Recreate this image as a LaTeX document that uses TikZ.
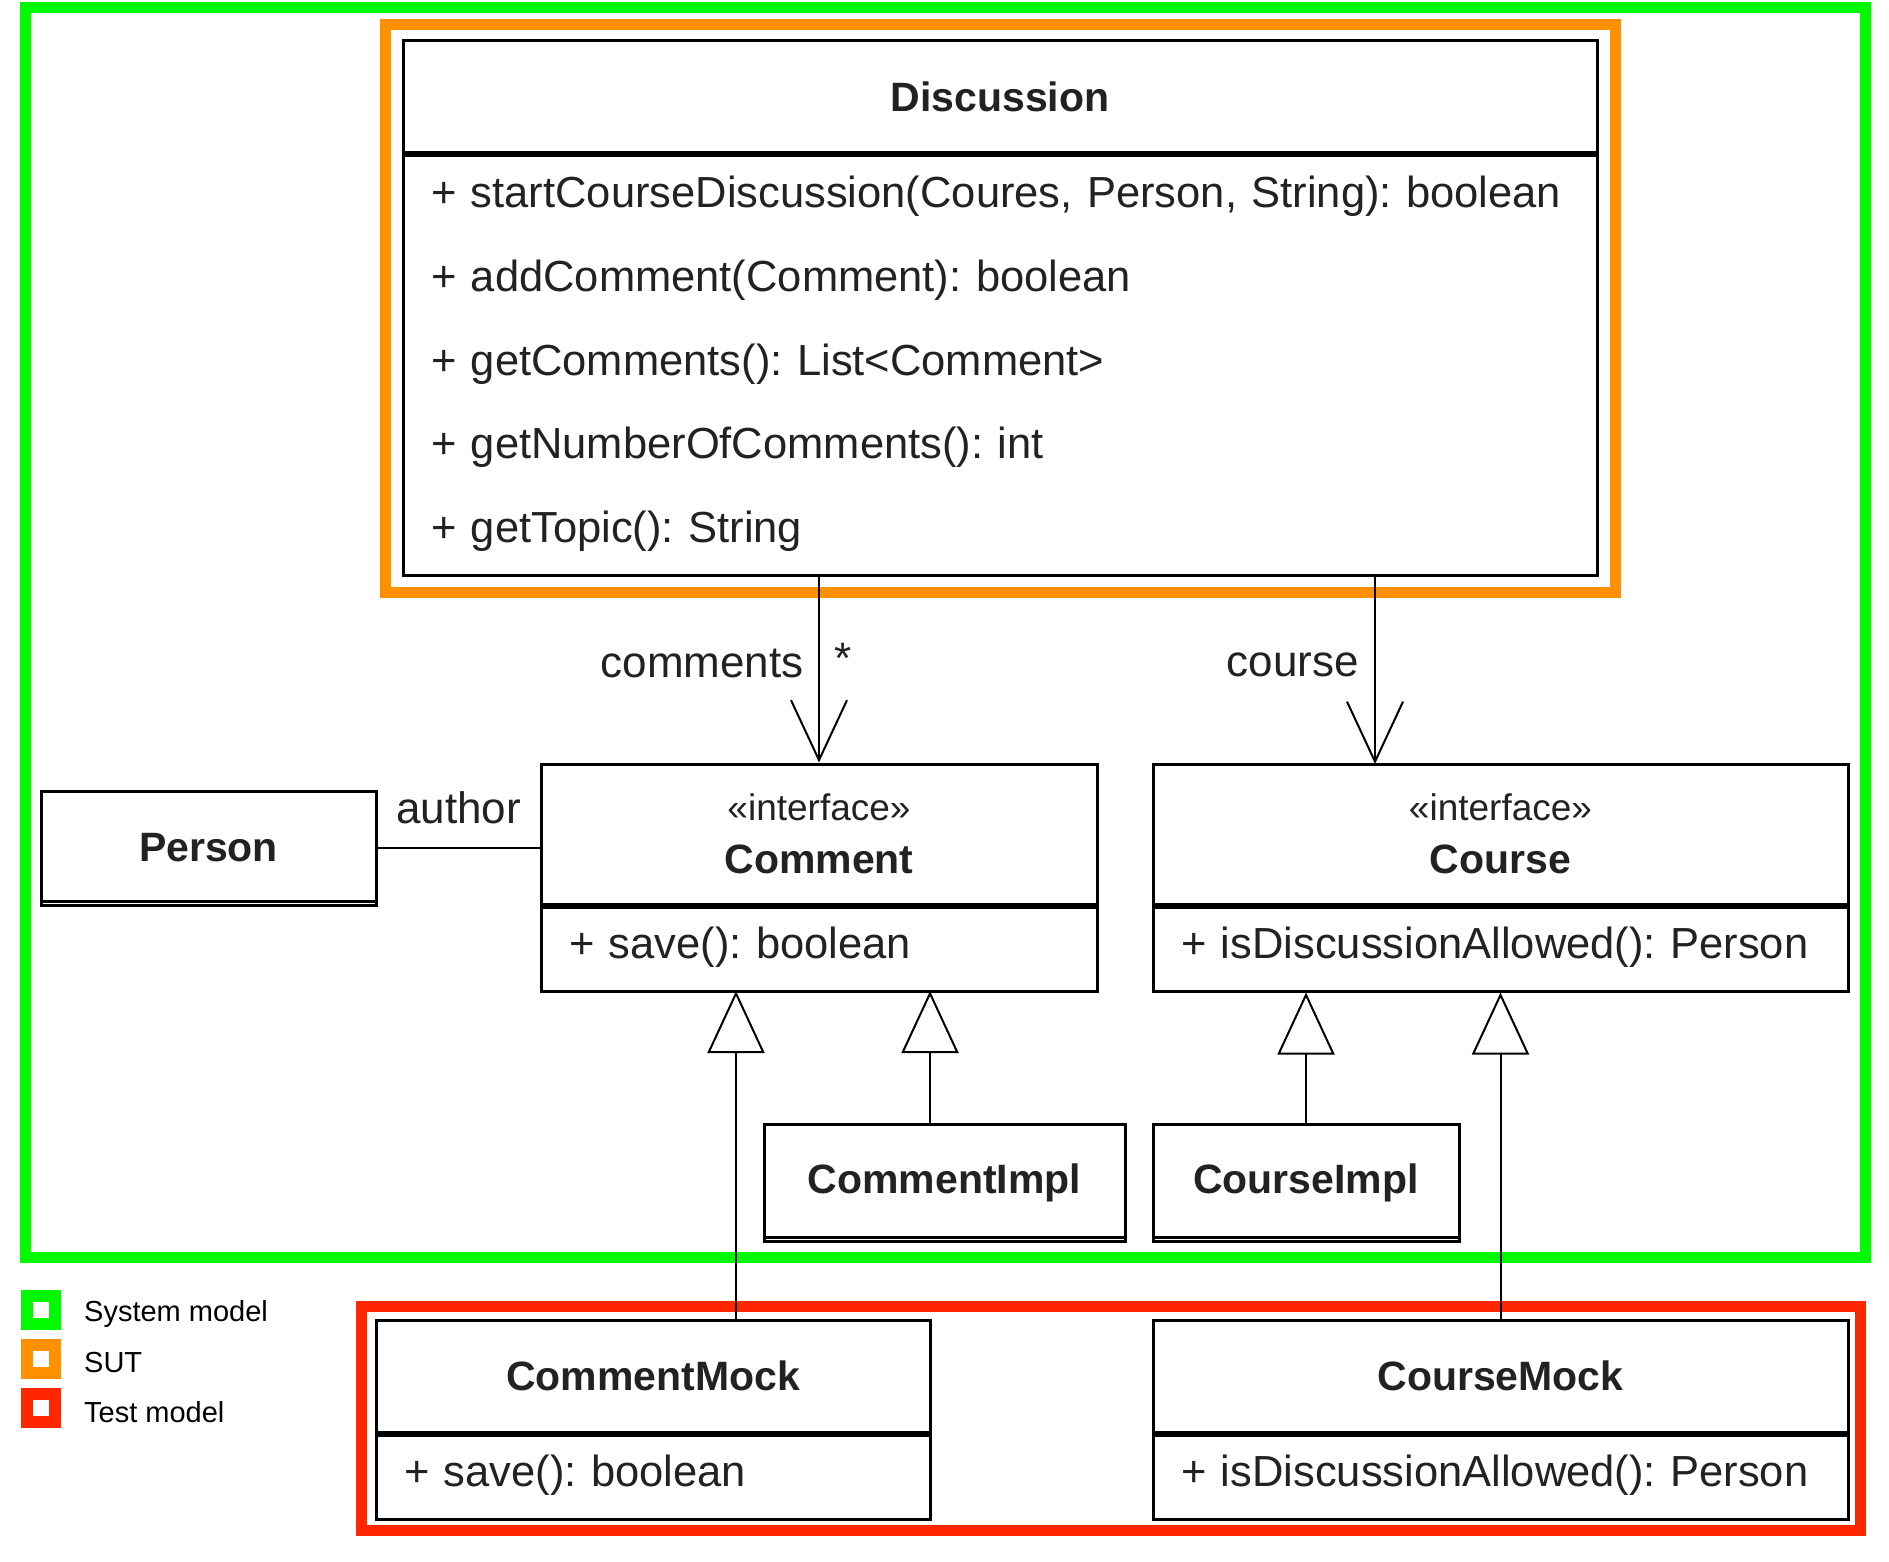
\documentclass[tikz,border=0pt]{standalone}
\usepackage{fontspec}
\setmainfont{Liberation Sans}
\frenchspacing
\usetikzlibrary{arrows.meta}
\definecolor{ink}{RGB}{34,34,34}
\definecolor{sysgreen}{RGB}{0,250,0}
\definecolor{sutorange}{RGB}{255,145,0}
\definecolor{testred}{RGB}{255,38,0}
\tikzset{
  zone/.style = {line width=11pt},
  clshead/.style = {draw, line width=3pt, fill=white, text=ink, inner sep=0pt, align=center,
    font=\fontsize{41}{53}\selectfont\bfseries},
  clsbody/.style = {draw, line width=3pt, fill=white, text=ink, inner xsep=28pt, inner ysep=0pt,
    align=left, font=\fontsize{43.5}{83.7}\selectfont},
  lbl/.style = {text=ink, font=\fontsize{44}{52}\selectfont},
  assoc/.style = {line width=2pt, -{Straight Barb[length=60pt,width=56pt]}},
  gen/.style = {line width=2pt, -{Triangle[open,length=62pt,width=57pt]}},
  legbox/.style = {draw=#1, line width=12pt, fill=white, minimum size=28pt, inner sep=0pt},
  legtext/.style = {anchor=west, inner sep=0pt, font=\fontsize{29}{35}\selectfont}
}
\newcommand{\stereo}[1]{{\mdseries\fontsize{37}{44}\selectfont «#1»}}

\begin{document}
\begin{tikzpicture}[x=1pt,y=-1pt]
  \useasboundingbox (0,0) rectangle (1889,1562);
  % zones
  \draw[zone,sysgreen] (25,8) rectangle (1865,1257);
  \draw[zone,sutorange] (385,25) rectangle (1615,592);
  \draw[zone,testred] (361,1306) rectangle (1860,1530);

  % classes
  \node[clshead,minimum width=1194pt,minimum height=112pt] (dischead) at (1000,97) {Discussion};
  \node[clsbody,text width=1138pt,minimum height=422pt] (discbody) at (1000,364)
    {+ startCourseDiscussion(Coures, Person, String): boolean\\+ addComment(Comment): boolean\\+ getComments(): List<Comment>\\+ getNumberOfComments(): int\\+ getTopic(): String};
  \node[clshead,minimum width=556pt,minimum height=140pt] (cmthead) at (819,834) {\stereo{interface}\\Comment};
  \node[clsbody,text width=500pt,minimum height=87pt] (cmtbody) at (819,947.5) {+ save(): boolean};
  \node[clshead,minimum width=695pt,minimum height=140pt] (crshead) at (1500.5,834) {\stereo{interface}\\Course};
  \node[clsbody,text width=639pt,minimum height=87pt] (crsbody) at (1500.5,947.5) {+ isDiscussionAllowed(): Person};
  \node[clshead,minimum width=335pt,minimum height=114pt] (person) at (208.5,848) {Person};
  \node[clshead,minimum width=361pt,minimum height=117pt] (cimpl) at (944.5,1182.5) {CommentImpl};
  \node[clshead,minimum width=306pt,minimum height=117pt] (rimpl) at (1306,1182.5) {CourseImpl};
  \node[clshead,minimum width=554pt,minimum height=112pt] (cmockhead) at (653,1376) {CommentMock};
  \node[clsbody,text width=498pt,minimum height=87pt] (cmockbody) at (653,1475.5) {+ save(): boolean};
  \node[clshead,minimum width=695pt,minimum height=112pt] (rmockhead) at (1500.5,1376) {CourseMock};
  \node[clsbody,text width=639pt,minimum height=87pt] (rmockbody) at (1500.5,1475.5) {+ isDiscussionAllowed(): Person};

  \foreach \n in {dischead,cmthead,crshead,cmockhead,rmockhead}
    \draw[line width=6pt] (\n.south west) -- (\n.south east);
  \foreach \n in {person,cimpl,rimpl}
    \draw[line width=2.5pt] ([yshift=5pt]\n.south west) -- ([yshift=5pt]\n.south east);

  % associations
  \coordinate (crsin) at (1375,764);
  \draw[assoc] (discbody.south -| cmthead.north) -- (cmthead.north)
    node[lbl,pos=.47,left=11pt] {comments} node[lbl,pos=.44,right=11pt] {*};
  \draw[assoc] (discbody.south -| crsin) -- (crsin) node[lbl,pos=.47,left=12pt] {course};
  \draw[line width=2pt] (person.east) -- (person.east -| cmthead.west)
    node[lbl,midway,above=20pt] {author};

  % realizations
  \coordinate (g1) at (736,991);
  \coordinate (g2) at (930,991);
  \draw[gen] (cmockhead.north -| g1) -- (g1);
  \draw[gen] (cimpl.north -| g2) -- (g2);
  \draw[gen] (rimpl.north) -- (rimpl.north |- crsbody.south);
  \draw[gen] (rmockhead.north) -- (crsbody.south);

  % legend
  \node[legbox=sysgreen] (lgsys) at (41,1310) {};
  \node[legbox=sutorange] (lgsut) at (41,1359) {};
  \node[legbox=testred] (lgtest) at (41,1408) {};
  \node[legtext] (lgsystxt) at (84,1314) {System model};
  \node[legtext] (lgsuttxt) at (84,1363) {SUT};
  \node[legtext] (lgtesttxt) at (84,1412) {Test model};
\end{tikzpicture}
\end{document}
